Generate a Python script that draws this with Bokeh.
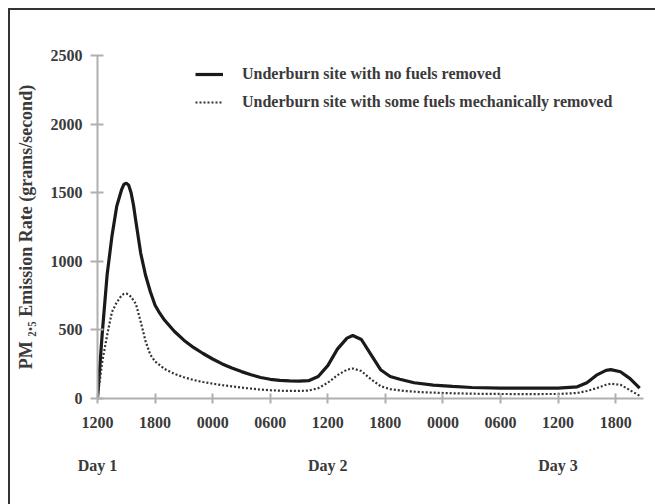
from bokeh.plotting import figure
from bokeh.models import (Range1d, LinearAxis, FixedTicker, Legend, LegendItem)
from bokeh.embed import file_html
from bokeh.resources import INLINE

# hours since 1200 on Day 1
hours_solid = [0, 0.5, 1.0, 1.5, 2.0, 2.5, 2.75, 3.0, 3.25, 3.5, 3.75, 4.0, 4.5, 5.0, 5.5, 6.0,
               6.5, 7, 8, 9, 10, 11, 12, 13, 14, 15, 16, 17, 18, 19, 20, 21, 22, 23, 24, 25,
               26, 26.6, 27.5, 28.5, 29.5, 30.5, 31.5, 33, 35, 37, 39, 42, 45, 48, 50, 51, 52,
               53, 53.5, 54.5, 55.5, 56.5]
pm_no_removal = [0, 480, 900, 1180, 1400, 1520, 1560, 1570, 1555, 1500, 1410, 1290, 1060, 900,
                 780, 680, 620, 570, 490, 425, 372, 328, 288, 252, 222, 196, 173, 153, 140, 132,
                 128, 127, 130, 160, 240, 360, 440, 459, 430, 320, 210, 160, 140, 115, 98, 88,
                 80, 76, 75, 76, 85, 115, 170, 205, 210, 195, 145, 75]

hours_dotted = [0, 0.5, 1.0, 1.5, 2.0, 2.5, 2.75, 3.0, 3.25, 3.5, 4.0, 4.5, 5.0, 5.5, 6.0, 7, 8,
                9, 10, 11, 12, 13, 14, 15, 16, 17, 18, 19, 20, 21, 22, 23, 24, 25, 26, 26.6,
                27.5, 28.5, 29.5, 30.5, 32, 34, 37, 40, 44, 48, 50, 51, 52, 53, 53.5, 54.5,
                55.5, 56.5]
pm_some_removal = [0, 270, 460, 630, 700, 750, 762, 765, 758, 740, 690, 560, 420, 320, 270, 215,
                   180, 155, 135, 120, 108, 97, 88, 80, 72, 65, 60, 57, 55, 55, 58, 75, 115, 170,
                   210, 219, 200, 140, 90, 68, 55, 45, 38, 34, 32, 33, 40, 55, 75, 100, 108, 100,
                   60, 20]

y_ticks = [0, 500, 1000, 1500, 2000, 2500]
x_ticks = [0, 6, 12, 18, 24, 30, 36, 42, 48, 54]
x_tick_labels = ["1200", "1800", "0000", "0600", "1200", "1800", "0000", "0600", "1200", "1800"]
day_ticks = [0, 24, 48]
day_labels = ["Day 1", "Day 2", "Day 3"]
series_labels = ["Underburn site with no fuels removed",
                 "Underburn site with some fuels mechanically removed"]

FONT = "Liberation Serif"
TXT = "#3a3a3a"
AX = "#b0b0b0"
FS = "16px"

p = figure(width=650, height=498, output_backend="svg", toolbar_location=None,
           x_range=Range1d(0, 56.9), y_range=Range1d(0, 2500),
           min_border_left=87, min_border_top=45, min_border_bottom=110, min_border_right=17,
           x_axis_location=None, y_axis_location=None)
p.styles = {"border-style": "solid none none solid", "border-width": "2px 0px 0px 2px",
            "border-color": "#333", "margin-left": "8px", "margin-top": "8px"}
p.outline_line_color = None
p.xgrid.visible = False
p.ygrid.visible = False
p.background_fill_color = "white"
p.border_fill_color = "white"

# y axis
yax = LinearAxis(ticker=FixedTicker(ticks=y_ticks))
yax.axis_label = "PM \u2082.\u2085 Emission Rate (grams/second)"
yax.axis_label_text_font = FONT
yax.axis_label_text_font_style = "bold"
yax.axis_label_text_font_size = "18px"
yax.axis_label_text_color = TXT
yax.axis_label_standoff = 12
yax.axis_line_color = AX
yax.axis_line_width = 2
yax.major_tick_line_color = AX
yax.major_tick_line_width = 2
yax.major_tick_in = 6
yax.major_tick_out = 7
yax.minor_tick_line_color = None
yax.major_label_text_font = FONT
yax.major_label_text_font_style = "bold"
yax.major_label_text_font_size = FS
yax.major_label_text_color = TXT
yax.major_label_standoff = 8
p.add_layout(yax, "left")

# x axis (clock times)
xax = LinearAxis(ticker=FixedTicker(ticks=x_ticks))
xax.major_label_overrides = {t: l for t, l in zip(x_ticks, x_tick_labels)}
xax.axis_line_color = AX
xax.axis_line_width = 2
xax.major_tick_line_color = AX
xax.major_tick_line_width = 2
xax.major_tick_in = 5
xax.major_tick_out = 5
xax.minor_tick_line_color = None
xax.major_label_text_font = FONT
xax.major_label_text_font_style = "bold"
xax.major_label_text_font_size = FS
xax.major_label_text_color = TXT
xax.major_label_standoff = 13
p.add_layout(xax, "below")

# day axis
dax = LinearAxis(ticker=FixedTicker(ticks=day_ticks))
dax.major_label_overrides = {t: l for t, l in zip(day_ticks, day_labels)}
dax.axis_line_color = None
dax.major_tick_line_color = None
dax.minor_tick_line_color = None
dax.major_label_text_font = FONT
dax.major_label_text_font_style = "bold"
dax.major_label_text_font_size = FS
dax.major_label_text_color = TXT
dax.major_label_standoff = 20
p.add_layout(dax, "below")

r1 = p.line(hours_solid, pm_no_removal, line_color="#1a1a1a", line_width=3.2)
r2 = p.line(hours_dotted, pm_some_removal, line_color="#333333", line_width=2.2,
            line_dash="2 2")

legend = Legend(items=[LegendItem(label=series_labels[0], renderers=[r1]),
                       LegendItem(label=series_labels[1], renderers=[r2])],
                location=(98, 286), orientation="vertical")
legend.background_fill_alpha = 0
legend.border_line_color = None
legend.label_text_font = FONT
legend.label_text_font_style = "bold"
legend.label_text_font_size = FS
legend.label_text_color = TXT
legend.glyph_width = 28
legend.glyph_height = 20
legend.label_height = 20
legend.spacing = 8
legend.padding = 0
legend.margin = 0
legend.label_standoff = 19
p.add_layout(legend, "center")

html = file_html(p, INLINE)
html = html.replace("</head>", "<style>html,body{overflow:hidden;margin:0;}</style></head>", 1)
open("out.html", "w").write(html)
